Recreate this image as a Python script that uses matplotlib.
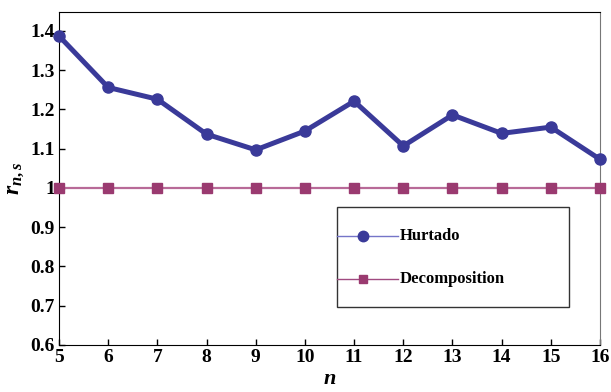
import matplotlib
matplotlib.use("Agg")
import matplotlib.pyplot as plt
from matplotlib.patches import Rectangle

# sizes n and the two ratio series
n_vals = [5, 6, 7, 8, 9, 10, 11, 12, 13, 14, 15, 16]
hurtado = [1.387, 1.256, 1.226, 1.137, 1.097, 1.145, 1.221, 1.107, 1.186, 1.139, 1.155, 1.073]
decomposition = [1.0] * len(n_vals)
y_ticks = [0.6, 0.7, 0.8, 0.9, 1.0, 1.1, 1.2, 1.3, 1.4]
y_tick_labels = ["0.6", "0.7", "0.8", "0.9", "1", "1.1", "1.2", "1.3", "1.4"]

plt.rcParams["font.family"] = ["Liberation Serif", "DejaVu Serif"]
plt.rcParams["mathtext.fontset"] = "custom"
plt.rcParams["mathtext.it"] = "Liberation Serif:italic:bold"
plt.rcParams["mathtext.rm"] = "Liberation Serif:bold"

fig = plt.figure(figsize=(6.11, 3.92), dpi=100)
ax = fig.add_axes([0.0966, 0.1199, 0.8854, 0.8503])

blue = "#3a3a99"
purple = "#9a3a70"

ax.plot(n_vals, decomposition, color="#b86a98", lw=1.6, marker="s", ms=6.5,
        mfc=purple, mec=purple, clip_on=False, zorder=3)
ax.plot(n_vals, hurtado, color=blue, lw=3.6, marker="o", ms=8,
        mfc=blue, mec=blue, clip_on=False, zorder=4)

ax.set_xlim(5, 16)
ax.set_ylim(0.6, 1.449)
ax.set_xticks(n_vals)
ax.set_xticklabels([str(v) for v in n_vals])
ax.set_yticks(y_ticks)
ax.set_yticklabels(y_tick_labels)
ax.tick_params(direction="in", length=4, width=1, labelsize=14, pad=3,
               top=False, right=False)
for lab in ax.get_xticklabels() + ax.get_yticklabels():
    lab.set_fontweight("bold")
ax.spines["right"].set_color("#777777")

ax.set_xlabel("$n$", fontsize=16, labelpad=3)
ax.set_ylabel("$r_{n,s}$", fontsize=17, labelpad=3)

# legend drawn by hand inside a framed box (pixel positions)
W = fig.get_figwidth() * fig.dpi
H = fig.get_figheight() * fig.dpi


def fx(px):
    return px / W


def fy(py):
    return 1 - py / H


fig.patches.append(Rectangle((fx(337), fy(307)), fx(569) - fx(337), fy(207) - fy(307),
                             transform=fig.transFigure, fill=False, ec="#333333", lw=1.0))
leg_items = [("Hurtado", "#7575c8", blue, "o", 7.5, 236),
             ("Decomposition", "#a04a80", purple, "s", 6, 279)]
for label, lc, mc, mk, ms, py in leg_items:
    fig.add_artist(plt.Line2D([fx(337), fx(398)], [fy(py), fy(py)], color=lc, lw=1.0,
                              transform=fig.transFigure))
    fig.add_artist(plt.Line2D([fx(363)], [fy(py)], marker=mk, ms=ms, color=mc,
                              transform=fig.transFigure))
    fig.text(fx(400), fy(py), label, fontsize=12, fontweight="bold", va="center", ha="left")

fig.savefig("out.png", dpi=100)
